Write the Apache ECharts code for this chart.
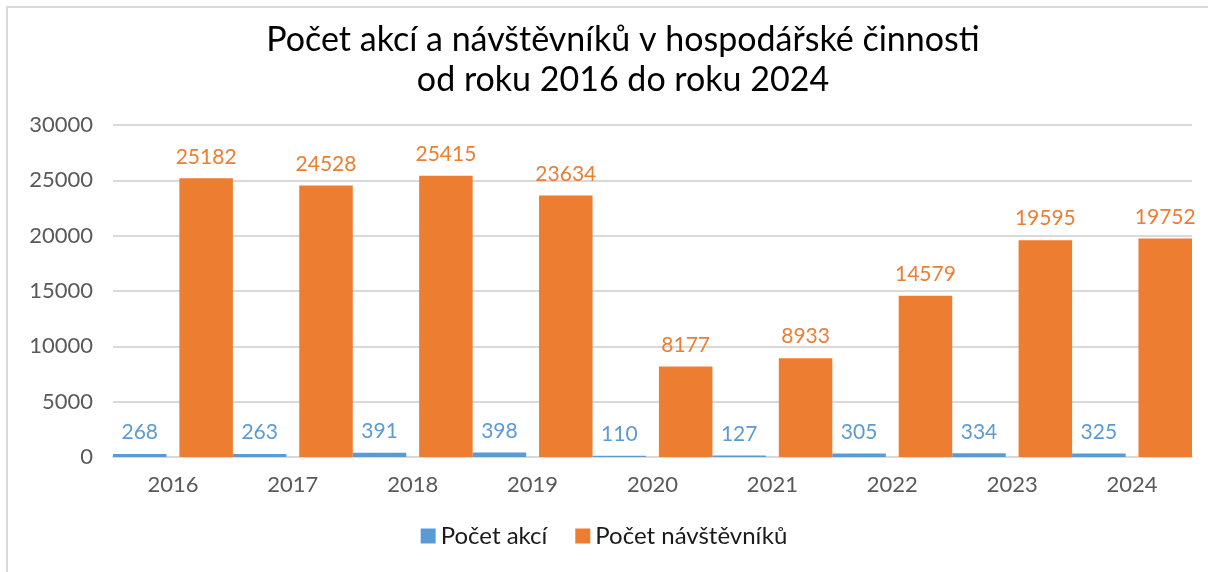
<!DOCTYPE html>
<html>
<head>
<meta charset="utf-8">
<script src="https://cdn.jsdelivr.net/npm/echarts@6/dist/echarts.min.js"></script>
<style>
  html, body { margin: 0; padding: 0; background: #fff; }
  #chart { width: 1208px; height: 572px; }
</style>
</head>
<body>
<div id="chart"></div>
<script>
'use strict';
var years = ['2016', '2017', '2018', '2019', '2020', '2021', '2022', '2023', '2024'];
var akce = [268, 263, 391, 398, 110, 127, 305, 334, 325];
var navstevnici = [25182, 24528, 25415, 23634, 8177, 8933, 14579, 19595, 19752];
var yTicks = [0, 5000, 10000, 15000, 20000, 25000, 30000];

var font = 'Lato, "Noto Sans", sans-serif';
var chart = echarts.init(document.getElementById('chart'));

chart.setOption({
  animation: false,
  textStyle: { fontFamily: font },
  graphic: [{
    type: 'rect',
    shape: { x: 7, y: 7, width: 1400, height: 800 },
    style: { fill: 'none', stroke: '#d9d9d9', lineWidth: 2 },
    silent: true
  }],
  title: {
    text: 'Počet akcí a návštěvníků v hospodářské činnosti\nod roku 2016 do roku 2024',
    left: 618,
    textAlign: 'center',
    top: 15,
    textStyle: { fontFamily: font, fontSize: 34, fontWeight: 'normal', color: '#000', lineHeight: 40 }
  },
  legend: {
    bottom: 19,
    left: 'center',
    itemWidth: 15,
    itemHeight: 15,
    itemGap: 28,
    icon: 'rect',
    textStyle: { fontFamily: font, fontSize: 24, color: '#1a1a1a' },
    data: ['Počet akcí', 'Počet návštěvníků']
  },
  grid: { left: 113, right: 16, top: 125, bottom: 115 },
  xAxis: {
    type: 'category',
    data: years,
    axisLine: { lineStyle: { color: '#d9d9d9', width: 2 } },
    axisTick: { show: false },
    axisLabel: { fontFamily: font, fontSize: 22, color: '#595959', margin: 17 }
  },
  yAxis: {
    type: 'value',
    min: yTicks[0],
    max: yTicks[yTicks.length - 1],
    interval: 5000,
    axisLine: { show: false },
    axisTick: { show: false },
    splitLine: { lineStyle: { color: '#d9d9d9', width: 2 } },
    axisLabel: {
      fontFamily: font, fontSize: 22, color: '#595959', margin: 20,
      formatter: function (v) { return String(v); }
    }
  },
  series: [{
    name: 'Počet akcí',
    type: 'bar',
    data: akce,
    barGap: '24%',
    barCategoryGap: '0%',
    itemStyle: { color: '#5b9bd5' },
    label: { show: true, position: 'top', distance: 11, fontFamily: font, fontSize: 21, color: '#5b9bd5' }
  }, {
    name: 'Počet návštěvníků',
    type: 'bar',
    data: navstevnici,
    barGap: '24%',
    barCategoryGap: '0%',
    itemStyle: { color: '#ed7d31' },
    label: { show: true, position: 'top', distance: 11, fontFamily: font, fontSize: 21, color: '#ed7d31' }
  }]
});
</script>
</body>
</html>
